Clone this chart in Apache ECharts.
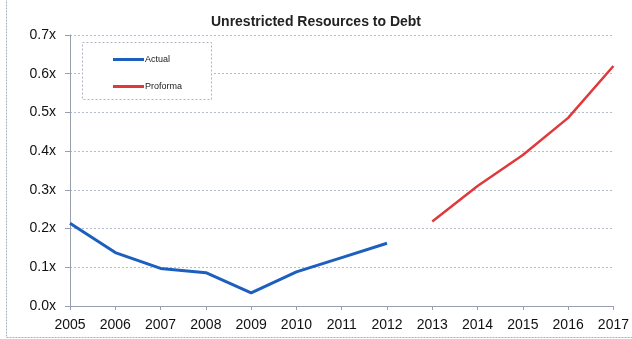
<!DOCTYPE html>
<html>
<head>
<meta charset="utf-8">
<script src="https://cdn.jsdelivr.net/npm/echarts@6/dist/echarts.min.js"></script>
<style>
  html, body { margin: 0; padding: 0; background: #fff; }
  #chart { width: 632px; height: 339px; }
</style>
</head>
<body>
<div id="chart"></div>
<script>
// Fiscal years on the horizontal axis
const years = ['2005','2006','2007','2008','2009','2010','2011','2012','2013','2014','2015','2016','2017'];
// Unrestricted resources to debt ratio, historical
const actual = [0.214, 0.138, 0.097, 0.086, 0.034, 0.088, 0.125, 0.162, null, null, null, null, null];
// Unrestricted resources to debt ratio, projected
const proforma = [null, null, null, null, null, null, null, null, 0.218, 0.310, 0.390, 0.486, 0.620];

const font = '"Liberation Sans", Arial, sans-serif';
const chart = echarts.init(document.getElementById('chart'), null, { renderer: 'canvas' });

chart.setOption({
  animation: false,
  backgroundColor: '#fff',
  title: {
    text: 'Unrestricted Resources to Debt',
    left: 'center',
    top: 10,
    textStyle: { fontFamily: font, fontSize: 14, fontWeight: 'bold', color: '#222' }
  },
  graphic: [
    {
      type: 'rect', left: 4, top: -4,
      shape: { width: 640, height: 339 },
      style: { fill: 'none', stroke: '#a9b0bf', lineWidth: 1, lineDash: [2, 1] },
      silent: true
    },
    {
      type: 'rect', left: 82, top: 42,
      shape: { width: 129, height: 57 },
      style: { fill: '#fff', stroke: '#b0b5c0', lineWidth: 1, lineDash: [2, 2] },
      z: 10
    }
  ],
  legend: {
    orient: 'vertical',
    left: 108,
    top: 50,
    itemGap: 18,
    itemWidth: 31,
    itemHeight: 3,
    icon: 'rect',
    z: 20,
    textStyle: { fontFamily: font, fontSize: 9, color: '#222', padding: [0, 0, 0, -4] },
    data: ['Actual', 'Proforma']
  },
  grid: { left: 70, right: 17, top: 35, bottom: 33 },
  xAxis: {
    type: 'category',
    data: years,
    boundaryGap: false,
    axisLine: { lineStyle: { color: '#98a0b0', width: 1 } },
    axisTick: { show: true, length: 4, inside: false, lineStyle: { color: '#98a0b0' } },
    axisLabel: { fontFamily: font, fontSize: 14, color: '#111', margin: 12, showMinLabel: true, showMaxLabel: true, interval: 0 },
    splitLine: { show: false }
  },
  yAxis: {
    type: 'value',
    min: 0,
    max: 0.7,
    interval: 0.1,
    axisLine: { show: true, lineStyle: { color: '#98a0b0', width: 1 } },
    axisTick: { show: true, length: 5, lineStyle: { color: '#98a0b0' } },
    axisLabel: {
      fontFamily: font, fontSize: 14, color: '#111', margin: 14,
      formatter: v => v.toFixed(1) + 'x'
    },
    splitLine: { show: true, lineStyle: { color: '#b4bccb', type: [2, 2], width: 1 } }
  },
  series: [
    {
      name: 'Actual', type: 'line', data: actual,
      color: '#1d5fbe',
      symbol: 'none', connectNulls: false,
      lineStyle: { width: 3, color: '#1d5fbe' }
    },
    {
      name: 'Proforma', type: 'line', data: proforma,
      color: '#e0393b',
      symbol: 'none', connectNulls: false,
      lineStyle: { width: 2.5, color: '#e0393b' }
    }
  ]
});
</script>
</body>
</html>
